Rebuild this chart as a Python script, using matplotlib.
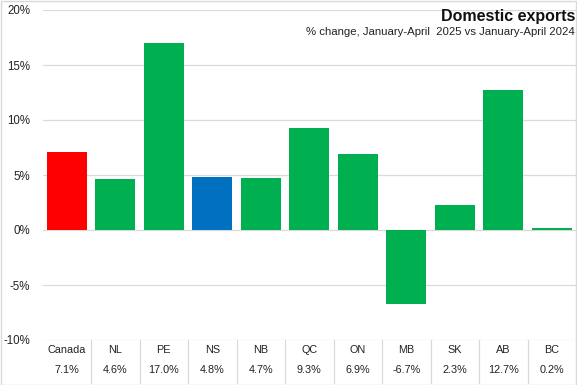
import matplotlib
matplotlib.use("Agg")
import matplotlib.pyplot as plt
from matplotlib.transforms import blended_transform_factory
from matplotlib.patches import Rectangle

categories = ["Canada", "NL", "PE", "NS", "NB", "QC", "ON", "MB", "SK", "AB", "BC"]
values = [7.1, 4.6, 17.0, 4.8, 4.7, 9.3, 6.9, -6.7, 2.3, 12.7, 0.2]
value_labels = ["7.1%", "4.6%", "17.0%", "4.8%", "4.7%", "9.3%", "6.9%", "-6.7%", "2.3%", "12.7%", "0.2%"]
yticks = [-10, -5, 0, 5, 10, 15, 20]
ytick_labels = ["-10%", "-5%", "0%", "5%", "10%", "15%", "20%"]
colors = ["#FF0000", "#00B050", "#00B050", "#0070C0", "#00B050", "#00B050",
          "#00B050", "#00B050", "#00B050", "#00B050", "#00B050"]

plt.rcParams['font.family'] = ['Liberation Sans', 'DejaVu Sans']

W, H = 577, 385
fig = plt.figure(figsize=(W / 100, H / 100), dpi=100)
ax = fig.add_axes([42.5 / W, 45 / H, (576 - 42.5) / W, 330 / H])

x = list(range(len(categories)))
ax.bar(x, values, width=0.82, color=colors, zorder=3)
ax.set_xlim(-0.5, len(categories) - 0.5)
ax.set_ylim(-10, 20)
ax.set_yticks(yticks)
ax.set_yticklabels(ytick_labels, fontsize=8.3, color="#222222")
ax.set_xticks([])
ax.tick_params(axis='y', length=0, pad=9)
for t in yticks:
    ax.axhline(t, color="#D9D9D9", lw=0.9, zorder=1)
for s in ax.spines.values():
    s.set_visible(False)

trans = blended_transform_factory(ax.transData, fig.transFigure)
for i, (c, v) in enumerate(zip(categories, value_labels)):
    ax.text(i, 1 - 350 / H, c, transform=trans, ha='center', va='center',
            fontsize=7.8, color="#222222", clip_on=False)
    ax.text(i, 1 - 370 / H, v, transform=trans, ha='center', va='center',
            fontsize=7.8, color="#222222", clip_on=False)
for i in range(1, len(categories)):
    ax.plot([i - 0.5, i - 0.5], [1 - 340 / H, 1 - 383 / H], transform=trans,
            color="#D9D9D9", lw=0.9, clip_on=False)

fig.text(575 / W, 1 - 16 / H, "Domestic exports", ha='right', va='center',
         fontsize=11.5, fontweight='bold', color="#111111")
fig.text(575 / W, 1 - 32 / H, "% change, January-April  2025 vs January-April 2024",
         ha='right', va='center', fontsize=8.2, color="#222222")

fig.patches.append(Rectangle((0.5 / W, 0.5 / H), (W - 1.5) / W, (H - 1.5) / H,
                             transform=fig.transFigure, fill=False,
                             edgecolor="#D9D9D9", lw=1))

fig.savefig("out.png", dpi=100)
